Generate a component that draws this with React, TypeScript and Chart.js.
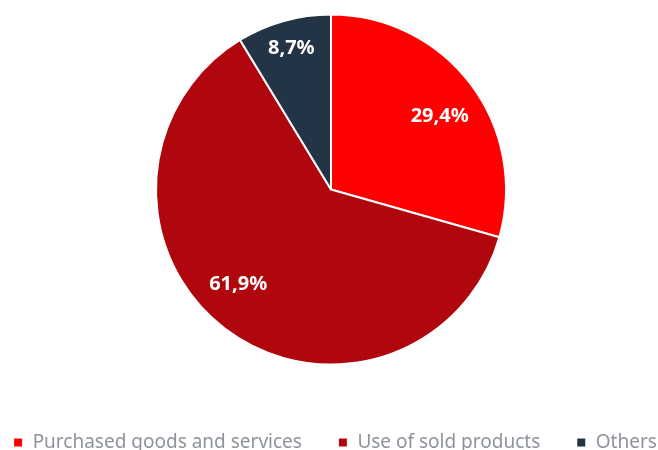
import React, { useRef, useEffect } from 'react';
import { Chart, registerables, Plugin } from 'chart.js';

Chart.register(...registerables);

const categories = ['Purchased goods and services', 'Use of sold products', 'Others'];
const shares = [29.4, 61.9, 8.7];
const sliceColors = ['#ff0000', '#b0060e', '#243447'];
// label placement per slice: fraction of radius and small angle nudge (degrees)
const labelRadius = [0.75, 0.76, 0.84];
const labelNudge = [3, 7, 0];

const FONT = '"Noto Sans", "Open Sans", sans-serif';

const sliceLabels: Plugin<'pie'> = {
  id: 'sliceLabels',
  afterDatasetsDraw(chart) {
    const ctx = chart.ctx;
    const meta = chart.getDatasetMeta(0);
    ctx.save();
    ctx.fillStyle = '#ffffff';
    ctx.font = `bold 20px ${FONT}`;
    ctx.textAlign = 'center';
    ctx.textBaseline = 'middle';
    meta.data.forEach((el: any, i) => {
      const { x, y, startAngle, endAngle, outerRadius } = el.getProps(
        ['x', 'y', 'startAngle', 'endAngle', 'outerRadius'],
        true
      );
      const mid = (startAngle + endAngle) / 2 + (labelNudge[i] * Math.PI) / 180;
      const r = outerRadius * labelRadius[i];
      const text = shares[i].toFixed(1).replace('.', ',') + '%';
      ctx.fillText(text, x + Math.cos(mid) * r, y + Math.sin(mid) * r);
    });
    ctx.restore();
  },
};

const App: React.FC = () => {
  const chartRef = useRef<HTMLCanvasElement>(null);
  const chartInstance = useRef<Chart | null>(null);

  useEffect(() => {
    document.body.style.margin = '0';
    document.body.style.overflow = 'hidden';
    if (!chartRef.current) return;
    if (chartInstance.current) chartInstance.current.destroy();

    chartInstance.current = new Chart(chartRef.current, {
      type: 'pie',
      data: {
        labels: categories,
        datasets: [
          {
            data: shares,
            backgroundColor: sliceColors,
            borderColor: '#ffffff',
            borderWidth: 2,
            radius: 175,
          },
        ],
      },
      options: {
        responsive: true,
        maintainAspectRatio: false,
        animation: false,
        // negative side padding widens the legend row so all three items fit on one line
        layout: { padding: { left: -50, right: -58 } },
        plugins: {
          tooltip: { enabled: false },
          legend: {
            position: 'bottom',
            labels: {
              boxWidth: 10,
              boxHeight: 10,
              padding: 36,
              color: '#8e939b',
              font: { family: FONT, size: 19 },
            },
          },
        },
      },
      plugins: [sliceLabels],
    });

    return () => {
      if (chartInstance.current) {
        chartInstance.current.destroy();
        chartInstance.current = null;
      }
    };
  }, []);

  // the chart is slightly taller than the window and shifted up, so the legend sits at the cut-off bottom edge
  return (
    <div style={{ position: 'absolute', left: '2px', top: '-18px', width: '658px', height: '480px' }}>
      <canvas ref={chartRef} />
    </div>
  );
};

export default App;
